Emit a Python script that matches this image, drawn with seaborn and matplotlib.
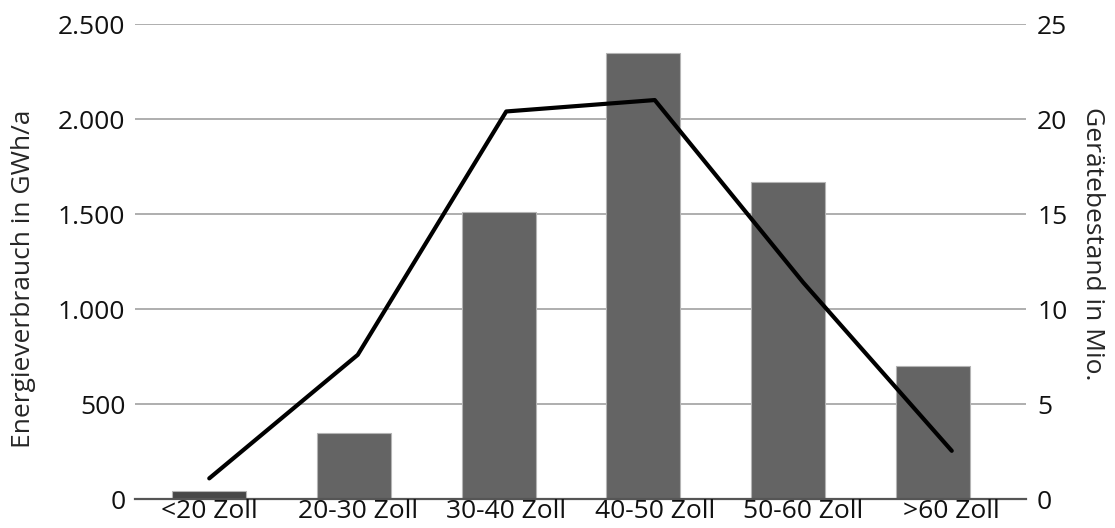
import numpy as np
import pandas as pd
import matplotlib
matplotlib.use("Agg")
import matplotlib.pyplot as plt
import seaborn as sns
from matplotlib.ticker import FuncFormatter

# ---- data ----
categories = ["<20 Zoll", "20-30 Zoll", "30-40 Zoll", "40-50 Zoll", "50-60 Zoll", ">60 Zoll"]
energy_gwh = [42, 350, 1510, 2350, 1670, 700]          # bars, left axis
devices_mio = [1.1, 7.6, 20.4, 21.0, 11.4, 2.55]       # line, right axis
left_ticks = [0, 500, 1000, 1500, 2000, 2500]
right_ticks = [0, 5, 10, 15, 20, 25]
left_label = "Energieverbrauch in GWh/a"
right_label = "Gerätebestand in Mio."

sns.set_theme(style="white")
plt.rcParams["font.family"] = ["Open Sans", "DejaVu Sans"]
FS = 19

df = pd.DataFrame({"cat": categories, "energy": energy_gwh, "devices": devices_mio})

fig = plt.figure(figsize=(11.15, 5.28), dpi=100)
rect = [135 / 1115, 1 - 499.3 / 528, 891 / 1115, 475.3 / 528]

# bars
ax = fig.add_axes(rect)
palette = ["#474747"] + ["#646464"] * (len(categories) - 1)
sns.barplot(data=df, x="cat", y="energy", hue="cat", palette=palette, legend=False,
            ax=ax, width=0.51, edgecolor="#b4b4b4", linewidth=0.8, saturation=1, zorder=3)
ax.set_xlim(-0.511, 5.642)
ax.set_ylim(0, 2500)
ax.set_yticks(left_ticks)
ax.yaxis.set_major_formatter(FuncFormatter(lambda v, p: f"{int(v):,}".replace(",", ".")))
ax.set_xticks([])
ax.set_xlabel("")
ax.set_ylabel(left_label, fontsize=FS)
ax.yaxis.set_label_coords(-0.1257, 0.4646)
ax.yaxis.label.set_va("center")
ax.grid(axis="y", color="#a8a8a8", lw=1.3, zorder=0)
ax.tick_params(axis="y", length=0, pad=7, labelsize=FS, colors="#111111")
for s in ["top", "right", "left"]:
    ax.spines[s].set_visible(False)
ax.spines["bottom"].set_color("#555555")
ax.spines["bottom"].set_linewidth(1.6)
ax.spines["bottom"].set_zorder(4)

# line
ax2 = fig.add_axes(rect)
ax2.patch.set_visible(False)
sns.lineplot(data=df, x="cat", y="devices", ax=ax2, color="black", lw=3.0, sort=False,
             zorder=5)
ax2.set_xlim(-0.5, len(categories) - 0.5)
ax2.set_ylim(0, 25)
ax2.set_yticks(right_ticks)
ax2.yaxis.tick_right()
ax2.yaxis.set_label_position("right")
ax2.set_xlabel("")
ax2.set_ylabel(right_label, fontsize=FS, rotation=270)
ax2.yaxis.set_label_coords(1.0746, 0.538)
ax2.yaxis.label.set_va("center")
ax2.grid(False)
ax2.tick_params(axis="y", length=0, pad=8, labelsize=FS, colors="#111111")
ax2.tick_params(axis="x", length=0, pad=0, labelsize=FS, colors="#111111")
for s in ax2.spines.values():
    s.set_visible(False)

fig.savefig("out.png", dpi=100)
